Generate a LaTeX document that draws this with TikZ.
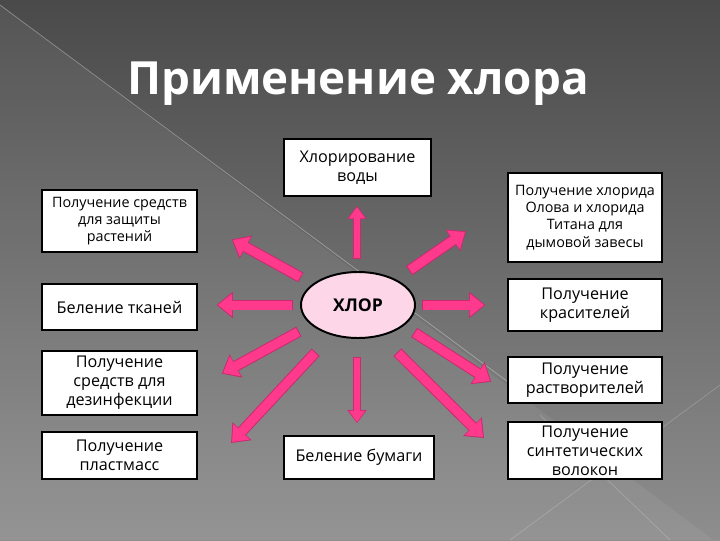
\documentclass[tikz,border=0pt]{standalone}
\usepackage{fontspec}
\setmainfont{Open Sans}
\usetikzlibrary{arrows.meta,shapes.geometric}
\definecolor{rayPink}{HTML}{FF3A8C}
\definecolor{rayEdge}{HTML}{C92A70}
\definecolor{coreFill}{HTML}{FDD7E8}
\definecolor{bgTop}{HTML}{4A4A4A}
\definecolor{bgBottom}{HTML}{8E8E8E}
\tikzset{
    usebox/.style={rectangle,draw=black,line width=1.4pt,fill=white,align=center,inner sep=1pt,
                   font=\fontsize{11.5}{13.4}\selectfont},
    smallbox/.style={usebox,font=\fontsize{10.2}{12.2}\selectfont},
    core/.style={ellipse,draw=black,line width=1.4pt,fill=coreFill,minimum width=2.85cm,minimum height=1.65cm,
                 font=\bfseries\fontsize{12.5}{14}\selectfont},
    ray/.style={rayPink,line width=6.4pt,-{Triangle[length=10pt,width=15.5pt]},
                preaction={draw=rayEdge,line width=7.8pt,shorten >=-1pt,shorten <=-0.7pt,
                           -{Triangle[length=11.5pt,width=18pt]}}},
    thinray/.style={rayPink,line width=4.6pt,-{Triangle[length=8pt,width=11pt]},
                preaction={draw=rayEdge,line width=5.8pt,shorten >=-0.8pt,shorten <=-0.6pt,
                           -{Triangle[length=9.2pt,width=13pt]}}}
}

\begin{document}
\begin{tikzpicture}[x=0.025cm,y=-0.025cm]

    \useasboundingbox (0,0) rectangle (720,540);
    % background
    \shade[top color=bgTop,bottom color=bgBottom] (0,0) rectangle (720,540);
    \fill[white,opacity=0.06] (0,5) -- (720,545) -- (720,540) -- (0,540) -- cycle;
    \draw[white,opacity=0.35,line width=0.5pt] (0,5) -- (535,402);
    \draw[white,opacity=0.2,line width=0.5pt] (540,415) -- (670,540);
    \draw[white,opacity=0.2,line width=0.5pt] (510,540) -- (720,385);

    \node[text=white,font=\bfseries\fontsize{32.5}{38}\selectfont] (title) at (358,84) {Применение хлора};

    % free ends of the rays
    \coordinate (tail water)   at (357,258);  \coordinate (tip water)   at (357,207);
    \coordinate (tail protect) at (300,277);  \coordinate (tip protect) at (233,240);
    \coordinate (tail cloth)   at (292,305);  \coordinate (tip cloth)   at (218,305);
    \coordinate (tail disinf)  at (298,332);  \coordinate (tip disinf)  at (223,373);
    \coordinate (tail plastic) at (315,353);  \coordinate (tip plastic) at (232,442);
    \coordinate (tail paper)   at (357,358);  \coordinate (tip paper)   at (357,422);
    \coordinate (tail fibre)   at (398,353);  \coordinate (tip fibre)   at (483,437);
    \coordinate (tail solvent) at (415,333);  \coordinate (tip solvent) at (490,381);
    \coordinate (tail dyes)    at (423,305);  \coordinate (tip dyes)    at (484,305);
    \coordinate (tail tin)     at (410,270);  \coordinate (tip tin)     at (465,232);

    \draw[thinray] (tail water)   -- (tip water);
    \draw[ray]     (tail protect) -- (tip protect);
    \draw[ray]     (tail cloth)   -- (tip cloth);
    \draw[ray]     (tail disinf)  -- (tip disinf);
    \draw[ray]     (tail plastic) -- (tip plastic);
    \draw[thinray] (tail paper)   -- (tip paper);
    \draw[ray]     (tail fibre)   -- (tip fibre);
    \draw[ray]     (tail solvent) -- (tip solvent);
    \draw[ray]     (tail dyes)    -- (tip dyes);
    \draw[ray]     (tail tin)     -- (tip tin);

    \node[core] (chlor) at (358,305) {ХЛОР};

    % left column
    \node[smallbox,minimum width=3.875cm,minimum height=1.55cm]  (protect) at (119.5,221)   {Получение средств\\для защиты\\растений};
    \node[usebox,minimum width=3.875cm,minimum height=1.15cm]    (cloth)   at (119.5,307)   {Беление тканей};
    \node[usebox,minimum width=3.875cm,minimum height=1.6cm]     (disinf)  at (119.5,383)   {Получение\\средств для\\дезинфекции};
    \node[usebox,minimum width=3.875cm,minimum height=1.175cm]   (plastic) at (119.5,455.5) {Получение\\пластмасс};

    % middle column
    \node[usebox,minimum width=3.675cm,minimum height=1.425cm]   (water)   at (357.5,167.5) {Хлорирование\\воды};
    \node[usebox,minimum width=3.75cm,minimum height=1.075cm]    (paper)   at (359,457.5)   {Беление бумаги};

    % right column
    \node[smallbox,minimum width=3.85cm,minimum height=2.225cm]  (tin)     at (585,217.5)   {Получение хлорида\\Олова и хлорида\\Титана для\\дымовой завесы};
    \node[usebox,minimum width=3.85cm,minimum height=1.3cm]      (dyes)    at (585,305)     {Получение\\красителей};
    \node[usebox,minimum width=3.85cm,minimum height=1.15cm]     (solvent) at (585,380)     {Получение\\растворителей};
    \node[usebox,minimum width=3.85cm,minimum height=1.425cm]    (fibre)   at (585,450.5)   {Получение\\синтетических\\волокон};

\end{tikzpicture}
\end{document}
